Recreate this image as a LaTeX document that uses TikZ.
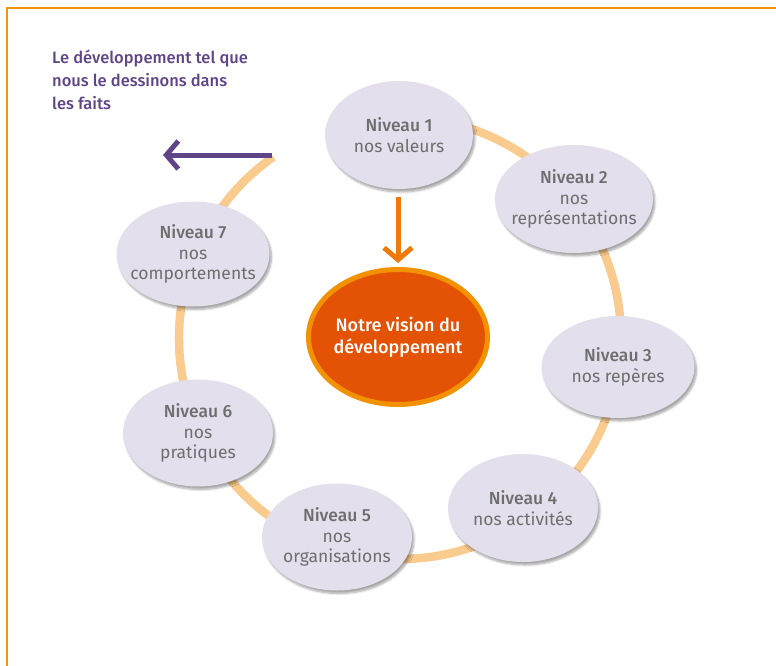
\documentclass[tikz,border=0pt]{standalone}
\usepackage{fontspec}
\setmainfont{Fira Sans}
\newfontfamily\medfont{Fira Sans Medium}
\usetikzlibrary{arrows.meta}
\usetikzlibrary{shapes.geometric}
\usetikzlibrary{shadows.blur}
\definecolor{mframe}{HTML}{F0960A}
\definecolor{mring}{HTML}{F9CB8F}
\definecolor{mlav}{HTML}{E4DFEC}
\definecolor{mpurple}{HTML}{5F4488}
\definecolor{morange}{HTML}{EF7A0B}
\definecolor{mvision}{HTML}{E35205}
\definecolor{mborder}{HTML}{F39200}
\definecolor{mgray}{HTML}{6E6E6E}
\tikzset{niv/.style = {ellipse, fill = mlav, inner ysep = 0, inner xsep = -20pt, align = center,
    text = mgray, font = \fontsize{17.5}{20.5}\selectfont,
    blur shadow = {shadow blur steps = 6, shadow xshift = 2pt, shadow yshift = -3pt, shadow opacity = 35}}}
\tikzset{vision/.style = {ellipse, fill = mvision, draw = mborder, line width = 5pt,
    inner ysep = 0, inner xsep = -10pt, align = center, text = white, font = \medfont\fontsize{18}{22}\selectfont}}

\begin{document}
\begin{tikzpicture}[x = 1pt, y = -1pt]
      \useasboundingbox (0, 0) rectangle (776, 666);
      \draw [mframe, line width = 1.2pt] (7, 666) -- (7, 8) -- (776, 8);

      \draw [mring, line width = 8.5pt] (400, 338) ++(235:221) arc [start angle = 235, end angle = -95, radius = 221];

      \node [niv, minimum width = 148, minimum height = 108] (n1) at (399, 135) {{\medfont Niveau 1}\\nos valeurs};
      \node [niv, minimum width = 158, minimum height = 108] (n2) at (574, 199) {{\medfont Niveau 2}\\nos\\représentations};
      \node [niv, minimum width = 153, minimum height = 102] (n3) at (618, 367) {{\medfont Niveau 3}\\nos repères};
      \node [niv, minimum width = 150, minimum height = 108] (n4) at (523, 508) {{\medfont Niveau 4}\\nos activités};
      \node [niv, minimum width = 150, minimum height = 107] (n5) at (337, 537) {{\medfont Niveau 5}\\nos\\organisations};
      \node [niv, minimum width = 150, minimum height = 107] (n6) at (198, 433) {{\medfont Niveau 6}\\nos\\pratiques};
      \node [niv, minimum width = 153, minimum height = 105] (n7) at (193, 254) {{\medfont Niveau 7}\\nos\\comportements};

      \node [vision, minimum width = 179, minimum height = 135] (vision) at (398, 337) {Notre vision du\\développement};

      \node [anchor = north west, align = left, mpurple, inner sep = 0,
        font = \medfont\fontsize{16.5}{23}\selectfont] (titre) at (52, 50)
        {Le développement tel que\\nous le dessinons dans\\les faits};

      \coordinate (depart) at (272, 155);
      \coordinate (fin) at (163, 155);
      \draw [mpurple, line width = 5pt, -{Straight Barb[length = 12pt, width = 28pt]}] (depart) -- (fin);
      \draw [morange, line width = 5pt, -{Straight Barb[length = 12pt, width = 28pt]}]
        ([yshift = -8pt] vision.north |- n1.south) -- ([yshift = 4pt] vision.north);
    \end{tikzpicture}
\end{document}
